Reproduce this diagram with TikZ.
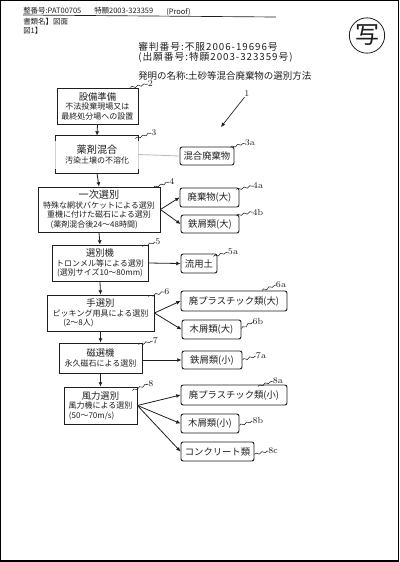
\documentclass[tikz,border=0pt]{standalone}
\usepackage{fontspec}
\newfontfamily\cjk{Noto Sans CJK JP}
\newfontfamily\cjkw[LetterSpace=10]{Noto Sans CJK JP}
\usetikzlibrary{calc,decorations.pathmorphing,arrows.meta}
\definecolor{ink}{gray}{0.12}
\tikzset{
  pbox/.style={draw=ink,line width=0.65pt,inner sep=0pt,align=center,text=ink,font=\cjk\fontsize{6}{7.1}\selectfont},
  obox/.style={draw=ink,line width=0.7pt,rounded corners=1.6pt,inner sep=0pt,align=center,text=ink,font=\cjk\fontsize{7}{8}\selectfont},
  flow/.style={draw=ink,line width=0.6pt,-{Latex[length=3.2pt,width=3pt]}},
  ldr/.style={draw=ink,line width=0.4pt,decorate,decoration={snake,amplitude=0.7pt,segment length=4.5pt}},
  num/.style={inner sep=0pt,text=ink,font=\fontsize{6.6}{7}\selectfont},
  hd/.style={inner sep=0pt,anchor=west,text=ink,font=\cjk\fontsize{5.6}{6.5}\selectfont},
  ttl/.style={inner sep=0pt,anchor=west,text=ink,font=\cjkw\fontsize{7.3}{8}\selectfont}
}
\newcommand{\ttxt}[1]{{\fontsize{7}{8.6}\selectfont #1}}
\newcommand{\leader}[4]{\draw[ldr] ($#1+(#2,#3)$) -- (#4.west);}
\begin{document}
\begin{tikzpicture}[x=0.75pt,y=-0.75pt]
\useasboundingbox (0,0) rectangle (400,562);
\fill[white] (0,0) rectangle (400,562);
\draw[black,line width=1.1pt] (0.7,0.7) rectangle (398.6,561.2);

% header
\node[hd] (h1) at (23,11) {整番号:PAT00705};
\node[hd] (h2) at (94,11) {特願2003-323359};
\node[hd] (h3) at (166,12.5) {(Proof)};
\node[hd] (h4) at (23,22) {書類名】図面};
\node[hd] (h5) at (23,31) {図1】};
\coordinate (ua) at (23,15);
\coordinate (ub) at (276,17);
\draw[ink,line width=0.5pt] (ua) -- (ub);
\node[ttl] (t1) at (138,46.5) {審判番号:不服2006-19696号};
\node[ttl] (t2) at (138,57) {(出願番号:特願2003-323359号)};
\node[ttl,font=\cjk\fontsize{7.1}{8}\selectfont] (t3) at (138,76) {発明の名称:土砂等混合廃棄物の選別方法};
\node[draw=ink,line width=0.6pt,circle,minimum size=26.5pt,inner sep=0pt,text=ink,font=\cjk\fontsize{18}{18}\selectfont] (st) at (367,35.5) {写};

% process boxes
\node[pbox,minimum width=60.75pt,minimum height=27pt] (b2) at (97.5,106) {\ttxt{設備準備}\\不法投棄現場又は\\最終処分場への設置};
\node[pbox,draw=none,minimum width=61.5pt,minimum height=27.75pt] (b3) at (97,154.5) {\ttxt{\fontsize{7.6}{9.5}\selectfont 薬剤混合}\\汚染土壌の不溶化};
\node[pbox,minimum width=91.5pt,minimum height=33.75pt] (b4) at (99,209.5) {\ttxt{\fontsize{7.6}{9}\selectfont 一次選別}\\特殊な網状バケットによる選別\\重機に付けた磁石による選別\\(薬剤混合後24〜48時間)\hspace*{1.2em}};
\node[pbox,minimum width=72pt,minimum height=27pt] (b5) at (100,263) {\ttxt{選別機}\\トロンメル等による選別\\(選別サイズ10〜80mm)};
\node[pbox,minimum width=80.25pt,minimum height=27pt] (b6) at (100.5,313) {\ttxt{手選別}\\ピッキング用具による選別\\(2〜8人)\hspace*{5.5em}};
\node[pbox,minimum width=62.25pt,minimum height=22.5pt] (b7) at (100.5,358) {\ttxt{磁選機}\\永久磁石による選別};
\node[pbox,minimum width=54.75pt,minimum height=27.75pt] (b8) at (100.5,405.5) {\ttxt{風力選別}\\風力機による選別\\(50〜70m/s)\hspace*{2.2em}};

% box 3 is printed with its sides almost gone
\draw[ink,line width=0.65pt] ($(b3.north west)+(0,5)$) -- (b3.north west) -- (b3.north east) -- ($(b3.north east)+(0,5)$);
\draw[ink,line width=0.65pt] ($(b3.south west)+(0,-4)$) -- (b3.south west) -- (b3.south east) -- ($(b3.south east)+(0,-4)$);
\draw[gray!35,line width=0.5pt] ($(b3.north west)+(0,5)$) -- ($(b3.south west)+(0,-4)$);
\draw[gray!35,line width=0.5pt] ($(b3.north east)+(0,5)$) -- ($(b3.south east)+(0,-4)$);

% output boxes
\node[obox,minimum width=40.5pt,minimum height=13.5pt] (a3) at (207,156) {混合廃棄物};
\node[obox,minimum width=44.25pt,minimum height=14.25pt] (a4a) at (209.5,197.5) {廃棄物(大)};
\node[obox,minimum width=43.5pt,minimum height=13.5pt] (a4b) at (210,224) {鉄屑類(大)};
\node[obox,minimum width=27pt,minimum height=14.25pt] (a5) at (199,263.5) {流用土};
\node[obox,minimum width=79.5pt,minimum height=15pt] (a6a) at (234,301) {廃プラスチック類(大)};
\node[obox,minimum width=44.25pt,minimum height=14.25pt] (a6b) at (211.5,329.5) {木屑類(大)};
\node[obox,minimum width=45pt,minimum height=13.5pt] (a7) at (212,360) {鉄屑類(小)};
\node[obox,minimum width=79.5pt,minimum height=15pt] (a8a) at (234,395) {廃プラスチック類(小)};
\node[obox,minimum width=43.5pt,minimum height=14.25pt] (a8b) at (210,423.5) {木屑類(小)};
\node[obox,minimum width=54.75pt,minimum height=14.25pt] (a8c) at (217.5,451.5) {コンクリート類};

% process flow
\draw[flow] (b2.south) -- (b3.north);
\draw[flow] (b3.south) -- (b4.north);
\draw[flow] (b4.south) -- (b5.north);
\draw[flow] (b5.south) -- (b6.north);
\draw[flow] (b6.south) -- (b7.north);
\draw[flow] (b7.south) -- (b8.north);

% outputs
\draw[gray!55,line width=0.6pt] (b3.east) -- (a3.west);
\draw[flow] (b4.east) -- (a4a.west);
\draw[flow] (b4.east) -- (a4b.west);
\draw[flow] (b5.east) -- (a5.west);
\draw[flow] (b6.east) -- (a6a.west);
\draw[flow] (b6.east) -- (a6b.west);
\draw[flow] (a7.west -| b7.east) -- (a7.west);
\draw[flow] (b8.east) -- (a8a.west);
\draw[flow] (b8.east) -- (a8b.west);
\draw[flow] (b8.east) -- (a8c.west);

% overall reference
\node[num] (l1) at (247,94) {1};
\coordinate (p1) at (221,127);
\draw[flow,line width=0.5pt] (l1) -- (p1);

% reference labels
\node[num] (l2) at (150.5,84) {2};
\node[num] (l3) at (154,133) {3};
\node[num] (l3a) at (250,143) {3a};
\node[num] (l4) at (172,182) {4};
\node[num] (l4a) at (258,186) {4a};
\node[num] (l4b) at (258,212) {4b};
\node[num] (l5) at (158,242) {5};
\node[num] (l5a) at (233,252) {5a};
\node[num] (l6) at (167,292) {6};
\node[num] (l6a) at (281,285) {6a};
\node[num] (l6b) at (258,322) {6b};
\node[num] (l7) at (155.5,341) {7};
\node[num] (l7a) at (261,356) {7a};
\node[num] (l8) at (151,384) {8};
\node[num] (l8a) at (278,381) {8a};
\node[num] (l8b) at (258,421) {8b};
\node[num] (l8c) at (273,451) {8c};

\leader{(b2.north east)}{-8}{0}{l2}
\leader{(b3.north east)}{-3}{3}{l3}
\leader{(a3.north east)}{-4}{1}{l3a}
\leader{(b4.north east)}{-7}{1}{l4}
\leader{(a4a.north east)}{-3}{2}{l4a}
\leader{(a4b.north east)}{-3}{1}{l4b}
\leader{(b5.north east)}{-6}{2}{l5}
\leader{(a5.north east)}{-4}{3}{l5a}
\leader{(b6.north east)}{-6}{2}{l6}
\leader{(a6a.north)}{28}{0}{l6a}
\leader{(a6b.east)}{0}{-1}{l6b}
\leader{(b7.north east)}{-4}{2}{l7}
\leader{(a7.east)}{0}{0}{l7a}
\leader{(b8.north east)}{-5}{4}{l8}
\leader{(a8a.north)}{24}{2}{l8a}
\leader{(a8b.east)}{0}{2}{l8b}
\leader{(a8c.east)}{0}{3}{l8c}
\end{tikzpicture}
\end{document}
